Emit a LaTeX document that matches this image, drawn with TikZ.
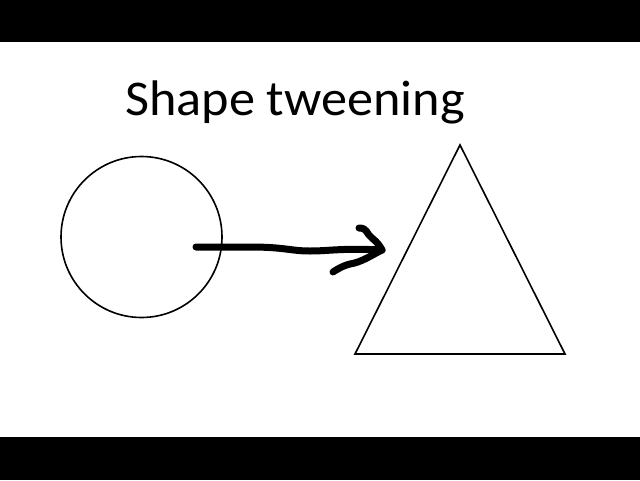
\documentclass[tikz,border=0pt]{standalone}
\usepackage{graphicx}
\usepackage{fontspec}
\setmainfont{Carlito}
\begin{document}
\begin{tikzpicture}[x=1pt,y=-1pt]
\tikzset{
  shapeline/.style={black,line width=1.6pt},
  penline/.style={black,line width=7pt,line cap=round,line join=round}
}
\useasboundingbox (0,0) rectangle (640,480);
\fill[black] (0,0) rectangle (640,42);
\fill[black] (0,437) rectangle (640,480);
\node[anchor=base west,inner sep=0pt,font=\fontsize{50}{55}\selectfont] (title) at (125,115) {\scalebox{1.045}[1]{Shape tweening}};
\draw[shapeline] (141.5,237) circle (80.5);
\coordinate (apex) at (460,145);
\coordinate (baseL) at (355,354);
\coordinate (baseR) at (565,354);
\draw[shapeline] (apex) -- (baseL) -- (baseR) -- cycle;
\coordinate (start) at (196,247);
\coordinate (tip) at (382,250);
\draw[penline] (start) -- (250,247) .. controls (285,247) and (290,251) .. (310,251)
  .. controls (330,251) and (340,248) .. (tip);
\draw[penline] (359,228) .. controls (368,228) and (366,234) .. (372,238) .. controls (377,242) and (380,246) .. (tip);
\draw[penline] (tip) .. controls (370,256) and (362,262) .. (350,264) .. controls (342,266) and (336,270) .. (333,272);
\end{tikzpicture}
\end{document}
